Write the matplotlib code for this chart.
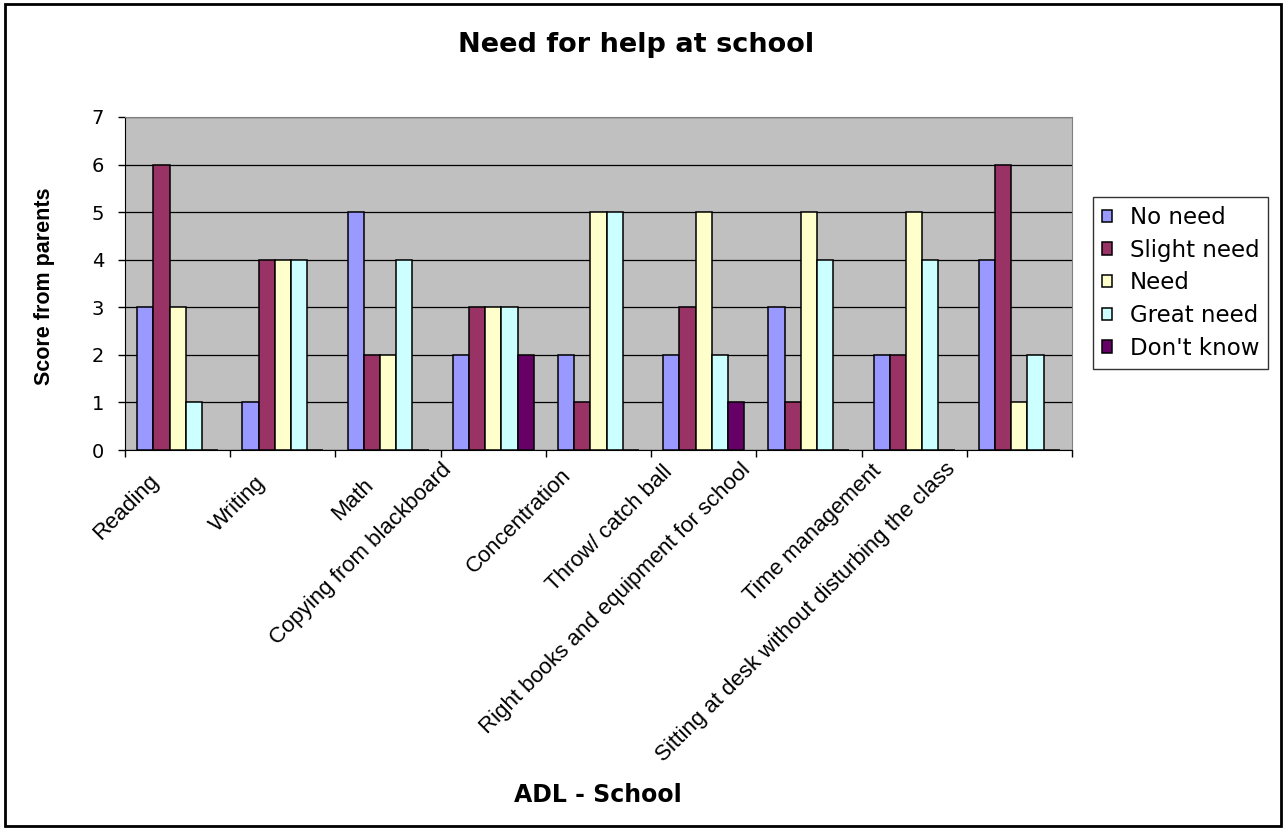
import numpy as np
import matplotlib.pyplot as plt
from matplotlib.transforms import ScaledTranslation
from matplotlib.patches import Rectangle

plt.rcParams['font.family'] = ['Liberation Sans', 'DejaVu Sans']

# Scores per activity, one list per answer
categories = ["Reading", "Writing", "Math", "Copying from blackboard", "Concentration",
              "Throw/ catch ball", "Right books and equipment for school",
              "Time management", "Sitting at desk without disturbing the class"]
series_names = ["No need", "Slight need", "Need", "Great need", "Don't know"]
no_need = [3, 1, 5, 2, 2, 2, 3, 2, 4]
slight_need = [6, 4, 2, 3, 1, 3, 1, 2, 6]
need = [3, 4, 2, 3, 5, 5, 5, 5, 1]
great_need = [1, 4, 4, 3, 5, 2, 4, 4, 2]
dont_know = [0, 0, 0, 2, 0, 1, 0, 0, 0]
colors = ["#9999FF", "#993366", "#FFFFCC", "#CCFFFF", "#660066"]

series = [no_need, slight_need, need, great_need, dont_know]
wide = ['DejaVu Sans']

fig = plt.figure(figsize=(12.87, 8.30), dpi=100)
ax = fig.add_axes([125 / 1287, 1 - 450 / 830, (1072 - 125) / 1287, (450 - 117) / 830])

x = np.arange(len(categories))
w = 1 / 6.5
for i, (vals, name, c) in enumerate(zip(series, series_names, colors)):
    ax.bar(x + (i - 2) * w, vals, width=w, color=c, edgecolor="black",
           linewidth=1.1, label=name, zorder=3)

ax.set_facecolor("#C0C0C0")
ax.set_xlim(-0.5, len(categories) - 0.5)
ax.set_ylim(0, 7)
ax.set_yticks(range(8))
ax.yaxis.grid(True, color="black", linewidth=0.9, zorder=1)
ax.tick_params(axis="y", direction="out", length=5, width=1, labelsize=14, pad=10)
for lbl in ax.get_yticklabels():
    lbl.set_family(wide)

# tick marks on category boundaries, labels on centres
ax.set_xticks(np.arange(-0.5, len(categories)), minor=True)
ax.tick_params(axis="x", which="minor", direction="out", length=5, width=1)
ax.set_xticks(x, categories, rotation=45, ha="right", rotation_mode="anchor")
ax.tick_params(axis="x", which="major", length=0, labelsize=16, pad=15)

for side in ["top", "right"]:
    ax.spines[side].set_color("#808080")
for side in ["left", "bottom"]:
    ax.spines[side].set_color("black")

fig.text(636 / 1287, 1 - 52 / 830, "Need for help at school", ha="center", va="baseline",
         fontsize=19.5, fontweight="bold", family=wide)
fig.text(45 / 1287, 1 - 286 / 830, "Score from parents", ha="center", va="center",
         rotation=90, fontsize=15.5, fontweight="bold")
fig.text(598 / 1287, 1 - 802 / 830, "ADL - School", ha="center", va="baseline",
         fontsize=17, fontweight="bold", family=wide)

leg = fig.legend(loc="upper left", bbox_to_anchor=(1093 / 1287, 1 - 197 / 830),
                 frameon=True, fancybox=False, edgecolor="black",
                 prop={'family': wide, 'size': 16.5},
                 handlelength=0.45, handleheight=0.45, handletextpad=0.75,
                 labelspacing=0.42, borderpad=0.4, borderaxespad=0)
leg.get_frame().set_linewidth(1)

# longer category labels sit further up and to the left of their slot
fig.canvas.draw()
xlabels = ax.get_xticklabels()
w0 = xlabels[0].get_window_extent().width
for lbl in xlabels:
    extra = lbl.get_window_extent().width - w0
    dx = -0.30 - 0.19 * extra / 100
    dy = min(0.15 * extra, 12) / 100
    lbl.set_transform(lbl.get_transform() + ScaledTranslation(dx, dy, fig.dpi_scale_trans))

# outer chart border
fig.patches.append(Rectangle((5 / 1287, 4 / 830), 1276 / 1287, 822 / 830, transform=fig.transFigure,
                             fill=False, edgecolor="black", linewidth=2))

fig.savefig("out.png", dpi=100)
